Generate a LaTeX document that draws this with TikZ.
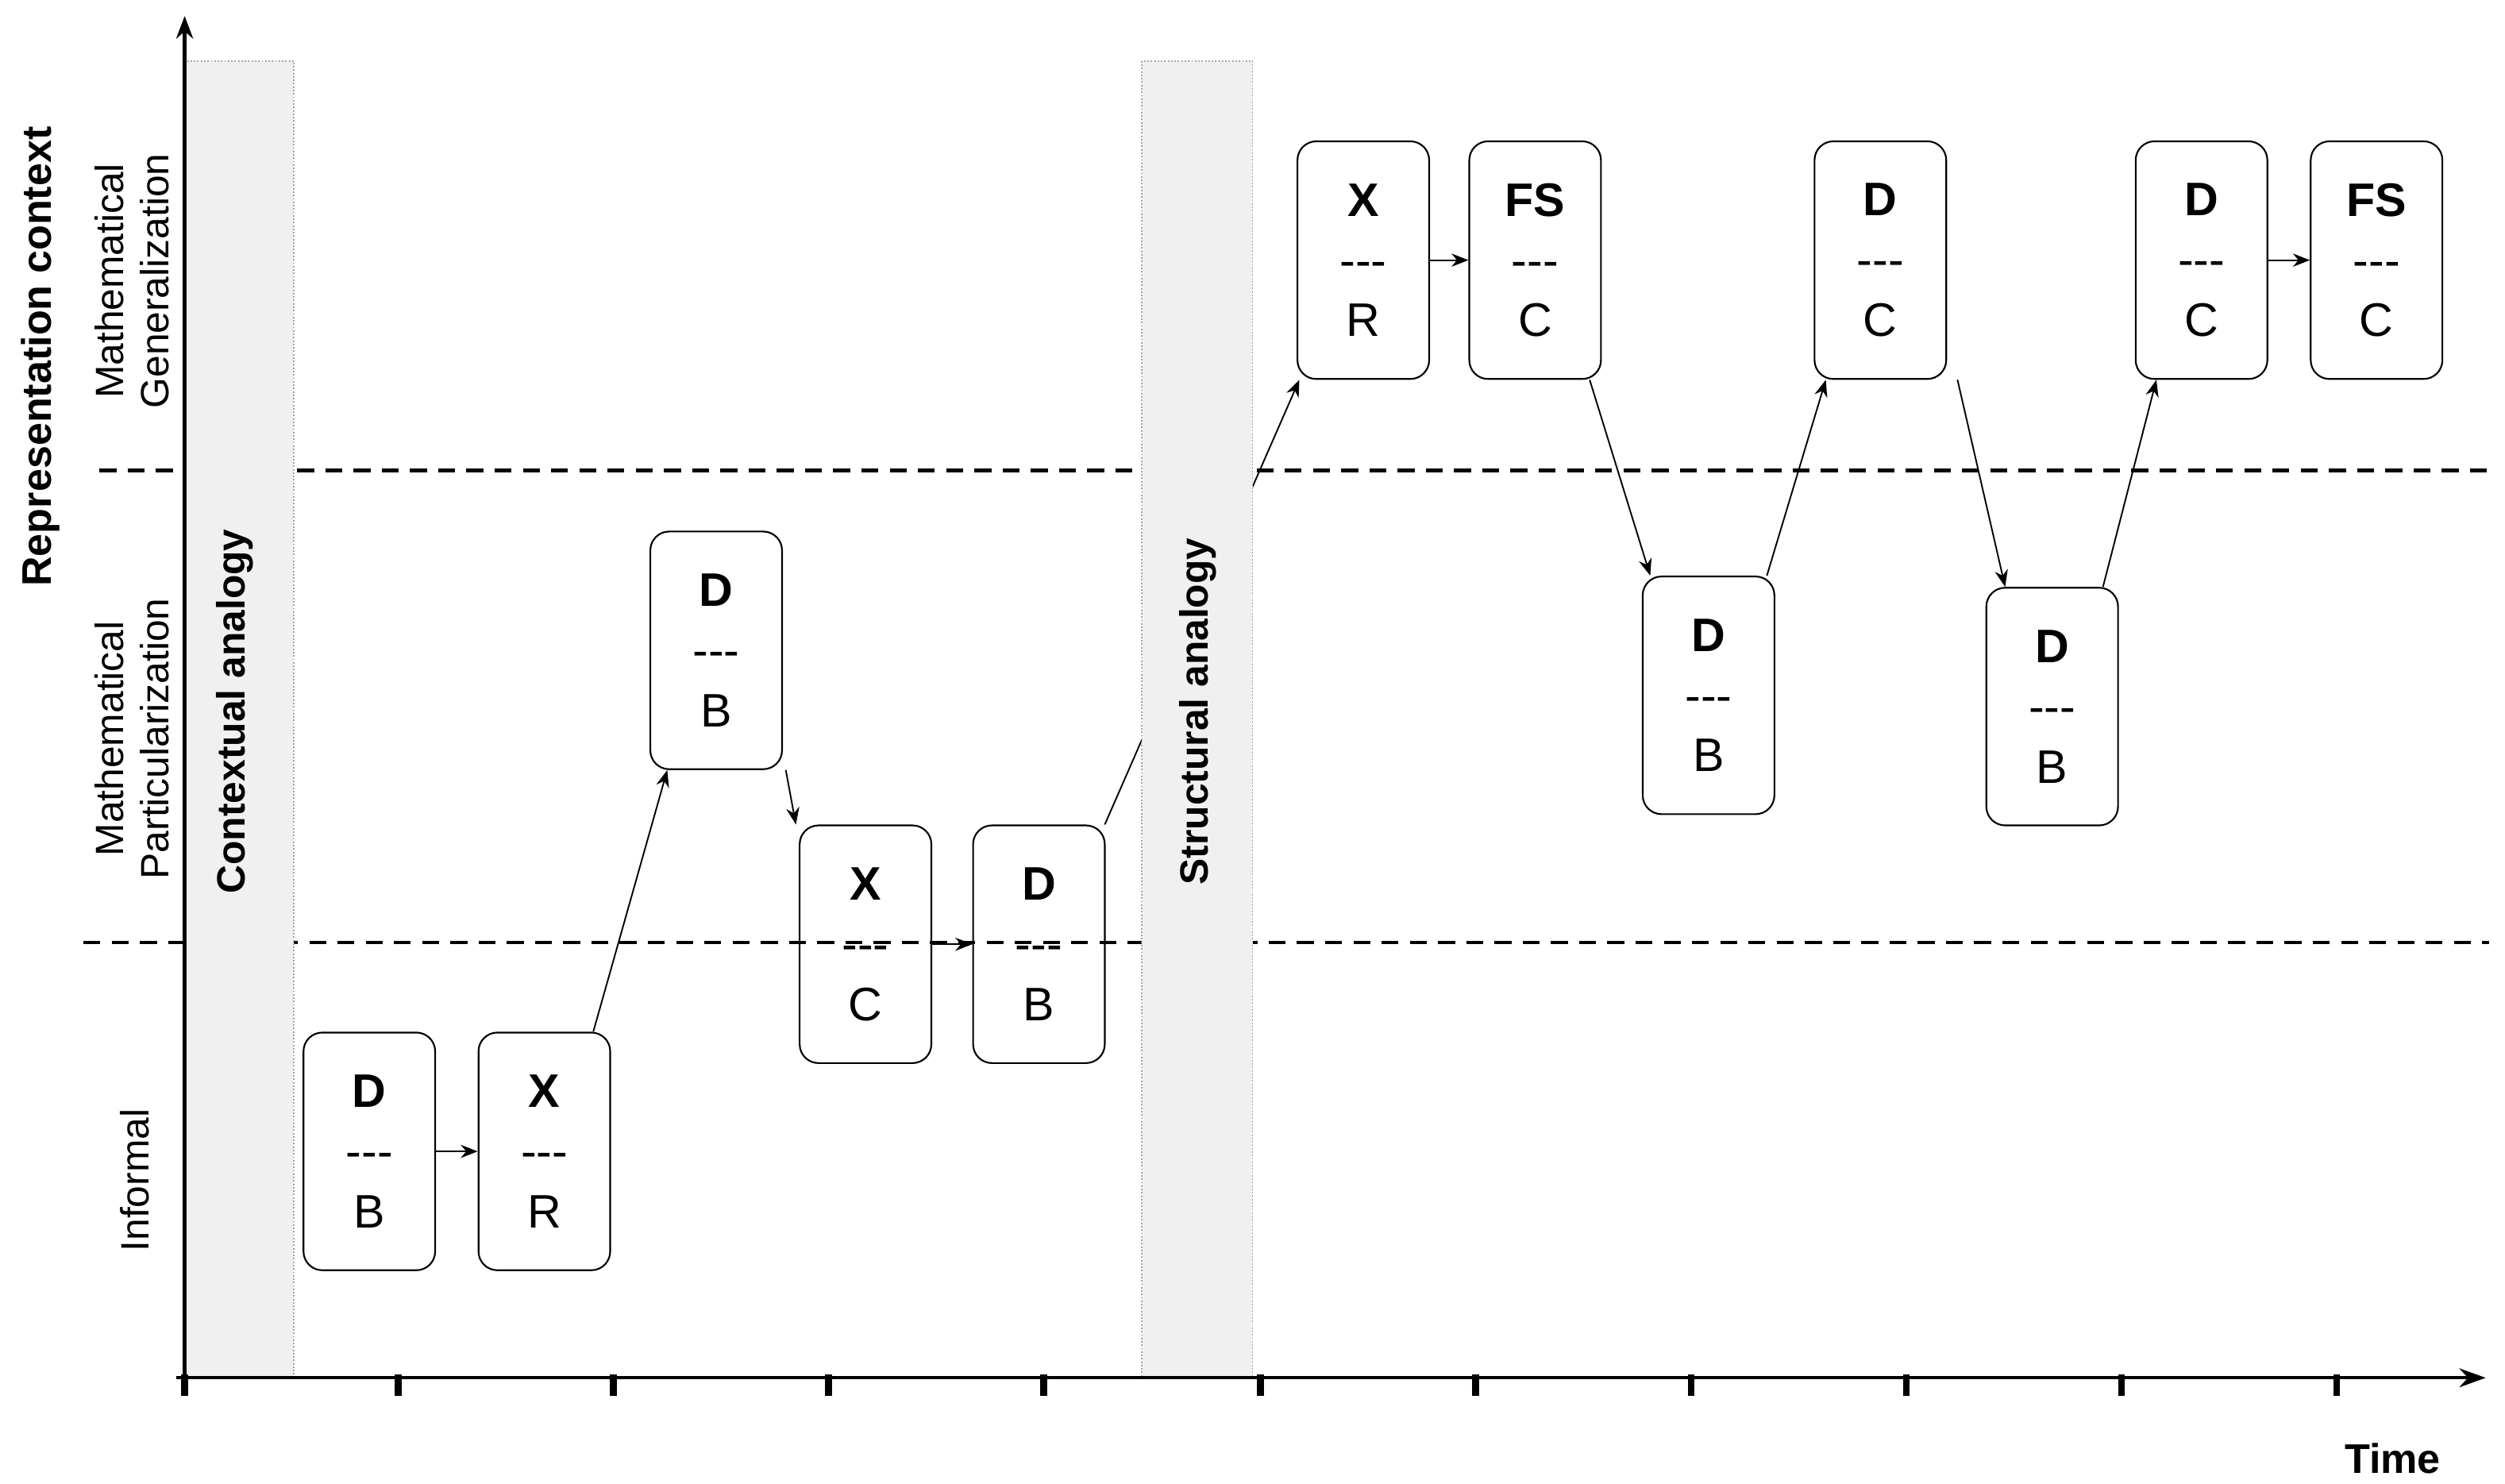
\documentclass[tikz,border=0pt]{standalone}
\usepackage{fontspec}
\setmainfont{Liberation Sans}
\usetikzlibrary{arrows.meta}
\begin{document}
\begin{tikzpicture}[x=0.03cm,y=-0.03cm,
  stepbox/.style={draw,rounded corners=10pt,line width=0.9pt,minimum width=2.46cm,minimum height=4.44cm,align=center,font=\fontsize{25}{32}\selectfont,inner sep=0pt},
  band/.style={fill=gray!12,draw=gray!70,densely dotted,line width=0.8pt},
  conn/.style={-{Stealth[length=9pt,width=7pt]},line width=0.8pt},
  lvl/.style={font=\fontsize{21}{24}\selectfont,align=center,rotate=90},
  hdash/.style={line width=1.8pt,dash pattern=on 9pt off 6pt}]
\useasboundingbox (0,0) rectangle (1560,924);
% dashed levels
\draw[hdash] (62,293) -- (1550,293);
\draw[hdash] (52,587) -- (1550,587);
% nodes
\newcommand{\stepnode}[4]{\node[stepbox] (#1) at (#2) {\textbf{#3}\\-{}-{}-\\#4};}
\stepnode{n1}{230,717}{D}{B}
\stepnode{n2}{339,717}{X}{R}
\stepnode{n3}{446,405}{D}{B}
\stepnode{n4}{539,588}{X}{C}
\stepnode{n5}{647,588}{D}{B}
\stepnode{n6}{849,162}{X}{R}
\stepnode{n7}{956,162}{FS}{C}
\stepnode{n8}{1064,433}{D}{B}
\stepnode{n9}{1171,162}{D}{C}
\stepnode{n10}{1278,440}{D}{B}
\stepnode{n11}{1371,162}{D}{C}
\stepnode{n12}{1480,162}{FS}{C}
% connectors
\draw[conn] (n1) -- (n2);
\draw[conn] ([xshift=26]n2.north) -- ([xshift=-26]n3.south);
\draw[conn] ([xshift=37]n3.south) -- ([xshift=-37]n4.north);
\draw[conn] (n4) -- (n5);
\draw[conn] ([xshift=35]n5.north) -- ([xshift=-34]n6.south);
\draw[conn] (n6) -- (n7);
\draw[conn] ([xshift=29]n7.south) -- ([xshift=-31]n8.north);
\draw[conn] ([xshift=31]n8.north) -- ([xshift=-29]n9.south);
\draw[conn] ([xshift=41]n9.south) -- ([xshift=-25]n10.north);
\draw[conn] ([xshift=27]n10.north) -- ([xshift=-24]n11.south);
\draw[conn] (n11) -- (n12);
% bands
\draw[band] (115,38) rectangle (183,858);
\draw[band] (711,38) rectangle (780,858);
\node[font=\fontsize{21}{24}\selectfont\bfseries,rotate=90] (ca) at (146,443) {Contextual analogy};
\node[font=\fontsize{21}{24}\selectfont\bfseries,rotate=90] (sa) at (746,443) {Structural analogy};
% axes
\coordinate (o) at (115,858);
\coordinate (yt) at (115,10);
\coordinate (xt) at (1548,858);
\draw[line width=1.8pt,-{Stealth[length=12pt,width=9pt]}] (o) -- (yt);
\draw[line width=1.8pt,-{Stealth[length=14pt,width=10pt]}] (110,858) -- (xt);
\foreach \x in {115,248,382,516,650,785,919,1053,1187,1321,1455}
  \draw[line width=3.5pt] (\x,856) -- (\x,869);
% labels
\node[font=\fontsize{22}{26}\selectfont\bfseries,rotate=90] (rc) at (25,222) {Representation context};
\node[lvl] (mg) at (82,175) {Mathematical\\Generalization};
\node[lvl] (mp) at (82,460) {Mathematical\\Particularization};
\node[lvl] (inf) at (84,735) {Informal};
\node[font=\fontsize{22}{26}\selectfont\bfseries] (time) at (1490,908) {Time};
\end{tikzpicture}
\end{document}
